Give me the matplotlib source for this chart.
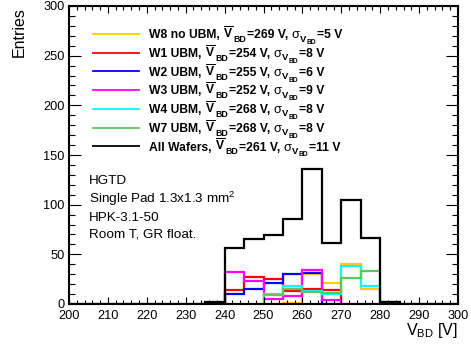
import numpy as np
import matplotlib
matplotlib.use("Agg")
import matplotlib.pyplot as plt
from matplotlib.ticker import MultipleLocator

plt.rcParams['font.family'] = ['Liberation Sans', 'DejaVu Sans']
plt.rcParams['mathtext.fontset'] = 'custom'
plt.rcParams['mathtext.rm'] = 'Liberation Sans'
plt.rcParams['mathtext.it'] = 'Liberation Sans:italic'
plt.rcParams['mathtext.bf'] = 'Liberation Sans:bold'
plt.rcParams['mathtext.sf'] = 'Liberation Sans'

# ---- data (bin width 5 V) ----
bin_width = 5
w8_start, w8_counts = 250, [0, 1, 30, 21, 40, 15]
w1_start, w1_counts = 240, [14, 27, 25, 13, 15, 14]
w2_start, w2_counts = 240, [10, 15, 21, 30, 31, 0]
w3_start, w3_counts = 240, [32, 23, 5, 8, 34, 4, 0, 0]
w4_start, w4_counts = 250, [10, 18, 13, 10, 38, 18]
w7_start, w7_counts = 235, [0, 0, 0, 9, 15, 12, 11, 26, 33, 2]
all_start = 200
all_counts = [0, 0, 0, 0, 0, 0, 0, 2, 56, 65, 69, 86, 136, 61, 105, 66, 2, 0, 0, 0]

names = ["W8 no UBM", "W1 UBM", "W2 UBM", "W3 UBM", "W4 UBM", "W7 UBM", "All Wafers"]
means = [269, 254, 255, 252, 268, 268, 261]
sigmas = [5, 8, 6, 9, 8, 8, 11]
colors = ["#ffcc00", "#ff0000", "#0000ff", "#ff00ff", "#00ffff", "#5ac85a", "#000000"]

series = [(w8_start, w8_counts), (w1_start, w1_counts), (w2_start, w2_counts),
          (w3_start, w3_counts), (w4_start, w4_counts), (w7_start, w7_counts),
          (all_start, all_counts)]

W, H = 471, 348
fig = plt.figure(figsize=(W / 100, H / 100), dpi=100)
ax = fig.add_axes([69 / W, 1 - 304 / H, (458 - 69) / W, (304 - 6) / H])

for (start, counts), c in zip(series, colors):
    counts = np.asarray(counts, dtype=float)
    edges = start + bin_width * np.arange(len(counts) + 1)
    ax.stairs(counts, edges, baseline=0, color=c, lw=1.6)

ax.set_xlim(200, 300)
ax.set_ylim(0, 300)
ax.xaxis.set_major_locator(MultipleLocator(10))
ax.xaxis.set_minor_locator(MultipleLocator(2))
ax.yaxis.set_major_locator(MultipleLocator(50))
ax.yaxis.set_minor_locator(MultipleLocator(10))
ax.tick_params(which='both', direction='in', top=True, right=True, width=0.8,
               labelsize=9.2, colors='black')
ax.tick_params(axis='x', which='major', length=5, pad=4.5)
ax.tick_params(axis='x', which='minor', length=2.8)
ax.tick_params(axis='y', which='major', length=8.8, pad=3)
ax.tick_params(axis='y', which='minor', length=4.4)
for s in ax.spines.values():
    s.set_linewidth(1.5)

renderer = fig.canvas.get_renderer()


def put(x_px, base_px, txt, size, weight='bold', drop=0.0):
    t = fig.text(x_px / W, (H - base_px - drop) / H, txt, fontsize=size,
                 fontweight=weight, ha='left', va='baseline')
    return x_px + t.get_window_extent(renderer).width


# legend (manual, ROOT-like)
row0 = 34
dy = 18.7
main = 8.7
for i, (n, m, s, c) in enumerate(zip(names, means, sigmas, colors)):
    ypx = row0 + i * dy
    ax.plot([(93 - 69) / 389, (139 - 69) / 389], [(304 - ypx) / 298] * 2,
            transform=ax.transAxes, color=c, lw=1.3, clip_on=False)
    base = ypx + 4.4
    x = put(149, base, n + ",", main)
    x += 3.5
    x = put(x, base, r"$\overline{\mathbf{V}}$", main)
    x = put(x + 0.3, base, "BD", 6.3, drop=3.8)
    x = put(x + 0.5, base, f"={m} V,", main)
    x += 3.5
    x = put(x, base, "σ", 9.4, weight='normal')
    x = put(x + 0.5, base, "V", 6.8, drop=3.2)
    x = put(x + 0.2, base, "BD", 4.8, drop=5.8)
    x = put(x + 1.0, base, f"={s} V", main)

info = ["HGTD", "Single Pad 1.3x1.3 mm$^2$", "HPK-3.1-50", "Room T, GR float."]
info_y = [179, 198, 216, 233]
for t, ypx in zip(info, info_y):
    ax.text((89 - 69) / 389, (304 - ypx - 4.8) / 298, t, transform=ax.transAxes,
            fontsize=9.7, ha='left', va='baseline')

ax.text(1.0, (304 - 335) / 298, r"V$_{\mathrm{BD}}$ [V]", transform=ax.transAxes,
        fontsize=11.5, ha='right', va='baseline')
ax.text((19 - 69) / 389, (304 - 7) / 298, "Entries", transform=ax.transAxes,
        fontsize=11.5, rotation=90, ha='center', va='top')

fig.savefig("out.png", dpi=100)
